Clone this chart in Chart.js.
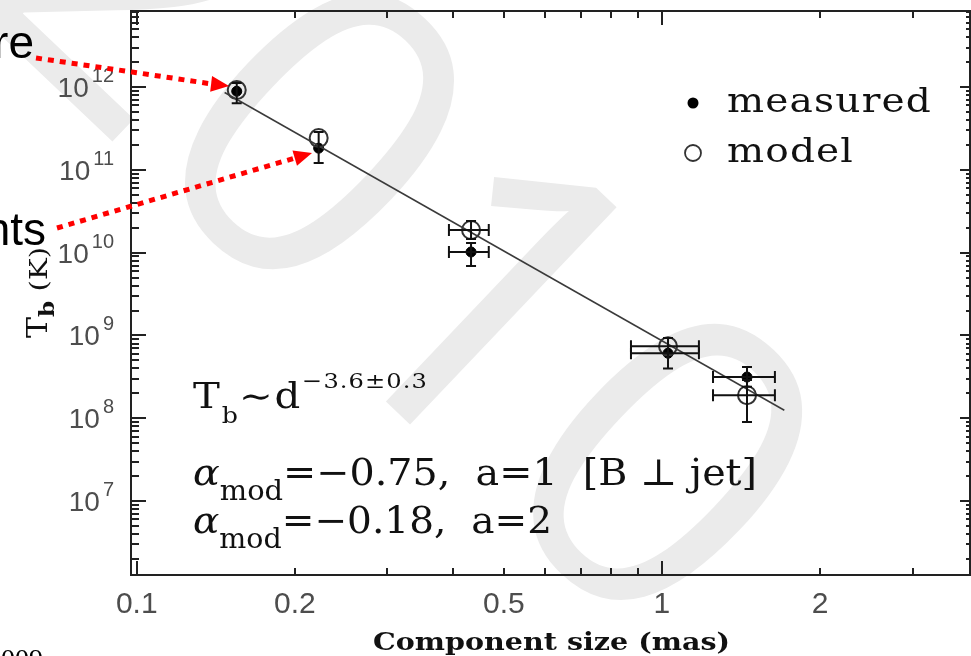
<!DOCTYPE html>
<html>
<head>
<meta charset="utf-8">
<script src="https://cdn.jsdelivr.net/npm/chart.js@4/dist/chart.umd.min.js"></script>
<style>
  html, body { margin: 0; padding: 0; background: #fff; }
  canvas { display: block; }
</style>
</head>
<body>
<canvas id="Chart" width="971" height="656"></canvas>
<script>
// component sizes (mas) and brightness temperatures (K)
const sizes = [0.155, 0.222, 0.433, 1.027, 1.452];
const measuredTb = [8.9e11, 1.83e11, 1.02e10, 6.1e8, 3.15e8];
const modelTb = [9.2e11, 2.42e11, 1.88e10, 7.4e8, 1.9e8];

// error bars
const sizeLow = [null, null, 0.393, 0.873, 1.251];
const sizeHigh = [null, null, 0.468, 1.176, 1.641];
const measuredLow = [6.4e11, 1.21e11, 6.9e9, 4.0e8, 2.4e8];
const measuredHigh = [1.12e12, 2.86e11, 1.31e10, 9.3e8, 4.15e8];
const modelLow = [null, null, 1.46e10, null, 9.0e7];
const modelHigh = [null, null, 2.41e10, null, 2.9e8];

// power law fit T_b ~ d^-3.6
const fitSizes = [0.147, 1.71];
const fitTb = [8.6e11, 1.25e8];

// axis labels
const xTickValues = [0.1, 0.2, 0.5, 1, 2];
const xTickLabels = ["0.1", "0.2", "0.5", "1", "2"];
const xMinorValues = [0.2, 0.3, 0.4, 0.5, 0.6, 0.7, 0.8, 0.9, 2, 3];
const xMajorValues = [0.1, 1];
const yDecades = [7, 8, 9, 10, 11, 12];

const SERIF = '"DejaVu Serif", serif';
const SANS = '"Liberation Sans", Arial, sans-serif';

// draws text pieces [text, size, dy, style], widened to a target width
function drawRich(ctx, x, y, parts, width, maxStretch) {
  const fontOf = (p) => (p[3] || "") + " " + p[1] + "px " + SERIF;
  let natural = 0, weight = 0;
  ctx.letterSpacing = "0px";
  parts.forEach((p) => {
    ctx.font = fontOf(p);
    natural += ctx.measureText(p[0]).width;
    weight += p[1] * [...p[0]].length;
  });
  let sx = 1, k = 0;
  if (width) {
    sx = Math.min(width / natural, maxStretch || 1.15);
    k = (width - sx * natural) / weight;
  }
  ctx.save();
  ctx.translate(x, y);
  ctx.scale(sx, 1);
  let cx = 0;
  parts.forEach((p) => {
    ctx.font = fontOf(p);
    ctx.letterSpacing = "0px";
    const w = ctx.measureText(p[0]).width;
    const sp = (k * p[1]) / sx;
    ctx.letterSpacing = sp + "px";
    ctx.fillText(p[0], cx, p[2]);
    cx += w + sp * [...p[0]].length;
  });
  ctx.restore();
  ctx.letterSpacing = "0px";
}

function arrow(ctx, pts, tip) {
  ctx.save();
  ctx.strokeStyle = "#ff0000";
  ctx.fillStyle = "#ff0000";
  ctx.lineWidth = 5;
  ctx.setLineDash([6, 6]);
  ctx.beginPath();
  ctx.moveTo(pts[0][0], pts[0][1]);
  for (let i = 1; i < pts.length; i++) ctx.lineTo(pts[i][0], pts[i][1]);
  ctx.stroke();
  const last = pts[pts.length - 1];
  const dx = tip[0] - last[0], dy = tip[1] - last[1];
  const len = Math.hypot(dx, dy);
  const ux = dx / len, uy = dy / len;
  const bx = tip[0] - ux * 18, by = tip[1] - uy * 18;
  ctx.setLineDash([]);
  ctx.beginPath();
  ctx.moveTo(tip[0], tip[1]);
  ctx.lineTo(bx - uy * 8, by + ux * 8);
  ctx.lineTo(bx + uy * 8, by - ux * 8);
  ctx.closePath();
  ctx.fill();
  ctx.restore();
}

const decor = {
  id: "decor",
  beforeDraw(chart) {
    const ctx = chart.ctx;
    ctx.save();
    ctx.fillStyle = "#fff";
    ctx.fillRect(0, 0, chart.width, chart.height);
    // watermark
    ctx.translate(-45, -8);
    ctx.rotate(0.76);
    ctx.fillStyle = "#ebebeb";
    ctx.font = '380 420px "Open Sans", sans-serif';
    ctx.fillText("2010", 0, 0);
    ctx.restore();
  },
  afterDatasetsDraw(chart) {
    const ctx = chart.ctx;
    const xa = chart.scales.x, ya = chart.scales.y;
    ctx.save();
    ctx.strokeStyle = "#111";
    ctx.lineWidth = 2;
    const vbar = (x, lo, hi) => {
      if (lo == null) return;
      const px = xa.getPixelForValue(x);
      const y1 = ya.getPixelForValue(lo), y2 = ya.getPixelForValue(hi);
      ctx.beginPath();
      ctx.moveTo(px, y1); ctx.lineTo(px, y2);
      ctx.moveTo(px - 5, y1); ctx.lineTo(px + 5, y1);
      ctx.moveTo(px - 5, y2); ctx.lineTo(px + 5, y2);
      ctx.stroke();
    };
    const hbar = (y, lo, hi) => {
      if (lo == null) return;
      const py = ya.getPixelForValue(y);
      const x1 = xa.getPixelForValue(lo), x2 = xa.getPixelForValue(hi);
      ctx.beginPath();
      ctx.moveTo(x1, py); ctx.lineTo(x2, py);
      ctx.moveTo(x1, py - 6); ctx.lineTo(x1, py + 6);
      ctx.moveTo(x2, py - 6); ctx.lineTo(x2, py + 6);
      ctx.stroke();
    };
    sizes.forEach((s, i) => {
      vbar(s, measuredLow[i], measuredHigh[i]);
      vbar(s, modelLow[i], modelHigh[i]);
      hbar(measuredTb[i], sizeLow[i], sizeHigh[i]);
      hbar(modelTb[i], sizeLow[i], sizeHigh[i]);
    });
    ctx.restore();
  },
  afterDraw(chart) {
    const ctx = chart.ctx;
    const xa = chart.scales.x, ya = chart.scales.y;
    const { left, right, top, bottom } = chart.chartArea;
    ctx.save();

    // frame and inward ticks
    ctx.strokeStyle = "#222";
    ctx.lineWidth = 2;
    ctx.strokeRect(left, top, right - left, bottom - top);
    ctx.beginPath();
    const xtick = (v, len) => {
      const px = Math.round(xa.getPixelForValue(v));
      ctx.moveTo(px, bottom); ctx.lineTo(px, bottom - len);
      ctx.moveTo(px, top); ctx.lineTo(px, top + len);
    };
    xMinorValues.forEach((v) => xtick(v, 7));
    xMajorValues.forEach((v) => xtick(v, 14));
    for (let d = 6; d <= 12; d++) {
      for (let m = 1; m <= 9; m++) {
        const v = m * Math.pow(10, d);
        if (v < ya.min || v > ya.max) continue;
        const py = Math.round(ya.getPixelForValue(v));
        ctx.moveTo(left, py); ctx.lineTo(left + (m === 1 ? 15 : 8), py);
        ctx.moveTo(right, py); ctx.lineTo(right - (m === 1 ? 10 : 4), py);
      }
    }
    ctx.stroke();

    // tick labels
    ctx.fillStyle = "#4d4d4d";
    ctx.textAlign = "center";
    ctx.textBaseline = "alphabetic";
    ctx.font = "30px " + SANS;
    xTickValues.forEach((v, i) => {
      ctx.fillText(xTickLabels[i], xa.getPixelForValue(v), 613);
    });
    ctx.textAlign = "left";
    yDecades.forEach((d) => {
      const py = ya.getPixelForValue(Math.pow(10, d));
      ctx.font = "20px " + SANS;
      const sw = ctx.measureText(String(d)).width;
      ctx.font = "28px " + SANS;
      const mw = ctx.measureText("10").width;
      const xr = left - 17;
      ctx.fillText("10", xr - sw - 3 - mw, py + 10);
      ctx.font = "20px " + SANS;
      ctx.fillText(String(d), xr - sw, py - 5);
    });

    // axis titles
    ctx.fillStyle = "#111";
    ctx.textAlign = "left";
    drawRich(ctx, 373, 650, [["Component size (mas)", 25, 0, "bold"]], 357, 1.2);
    ctx.save();
    ctx.translate(47, 338);
    ctx.rotate(-Math.PI / 2);
    drawRich(ctx, 0, 0, [["T", 27, 0], ["b", 20, 7, "bold"], [" (K)", 25, 0]], 91, 1.2);
    ctx.restore();

    // legend
    ctx.fillStyle = "#000";
    ctx.beginPath();
    ctx.arc(693, 103, 5.5, 0, Math.PI * 2);
    ctx.fill();
    ctx.strokeStyle = "#333";
    ctx.lineWidth = 1.8;
    ctx.beginPath();
    ctx.arc(693, 153, 8, 0, Math.PI * 2);
    ctx.stroke();
    ctx.fillStyle = "#111";
    drawRich(ctx, 727, 112, [["measured", 34, 0]], 205);
    drawRich(ctx, 727, 162, [["model", 34, 0]], 127);

    // annotations
    drawRich(ctx, 193, 408, [["T", 35, 0], ["b", 22, 15], ["\u223cd", 35, 0], ["\u22123.6\u00b10.3", 21, -20]], 235);
    drawRich(ctx, 193, 485, [["\u03b1", 37, 0, "italic"], ["mod", 27, 15], ["=\u22120.75,  a=1  [B \u22a5 jet]", 37, 0]], 564);
    drawRich(ctx, 193, 533, [["\u03b1", 37, 0, "italic"], ["mod", 27, 15], ["=\u22120.18,  a=2", 37, 0]], 359);

    // cut-off overlay text and arrows
    ctx.fillStyle = "#000";
    ctx.textAlign = "right";
    ctx.font = "46px " + SANS;
    ctx.fillText("re", 34, 58);
    ctx.fillText("nts", 46, 245);
    ctx.font = "28px " + '"Liberation Serif", serif';
    ctx.fillText("2009", 43, 668);
    arrow(ctx, [[36, 58], [132, 72], [212, 84]], [229, 86]);
    arrow(ctx, [[57, 228], [295, 158]], [312, 153]);
    ctx.restore();
  },
};

const ctx = document.getElementById("Chart");

new Chart(ctx, {
  type: "scatter",
  data: {
    datasets: [
      {
        label: "fit",
        data: fitSizes.map((x, i) => ({ x: x, y: fitTb[i] })),
        showLine: true,
        borderColor: "#3a3a3a",
        borderWidth: 1.5,
        pointRadius: 0,
      },
      {
        label: "model",
        data: sizes.map((x, i) => ({ x: x, y: modelTb[i] })),
        pointRadius: 9,
        borderColor: "#333",
        borderWidth: 2,
        backgroundColor: "rgba(0,0,0,0)",
      },
      {
        label: "measured",
        data: sizes.map((x, i) => ({ x: x, y: measuredTb[i] })),
        pointRadius: 5,
        borderColor: "#000",
        borderWidth: 1,
        backgroundColor: "#000",
      },
    ],
  },
  options: {
    responsive: false,
    animation: false,
    devicePixelRatio: 1,
    layout: { autoPadding: false, padding: { left: 131, right: 1, top: 11, bottom: 81 } },
    plugins: { legend: { display: false }, tooltip: { enabled: false } },
    scales: {
      x: { type: "logarithmic", display: false, min: 0.0975, max: 3.86 },
      y: { type: "logarithmic", display: false, min: 1.28e6, max: 8.3e12 },
    },
  },
  plugins: [decor],
});
</script>
</body>
</html>
